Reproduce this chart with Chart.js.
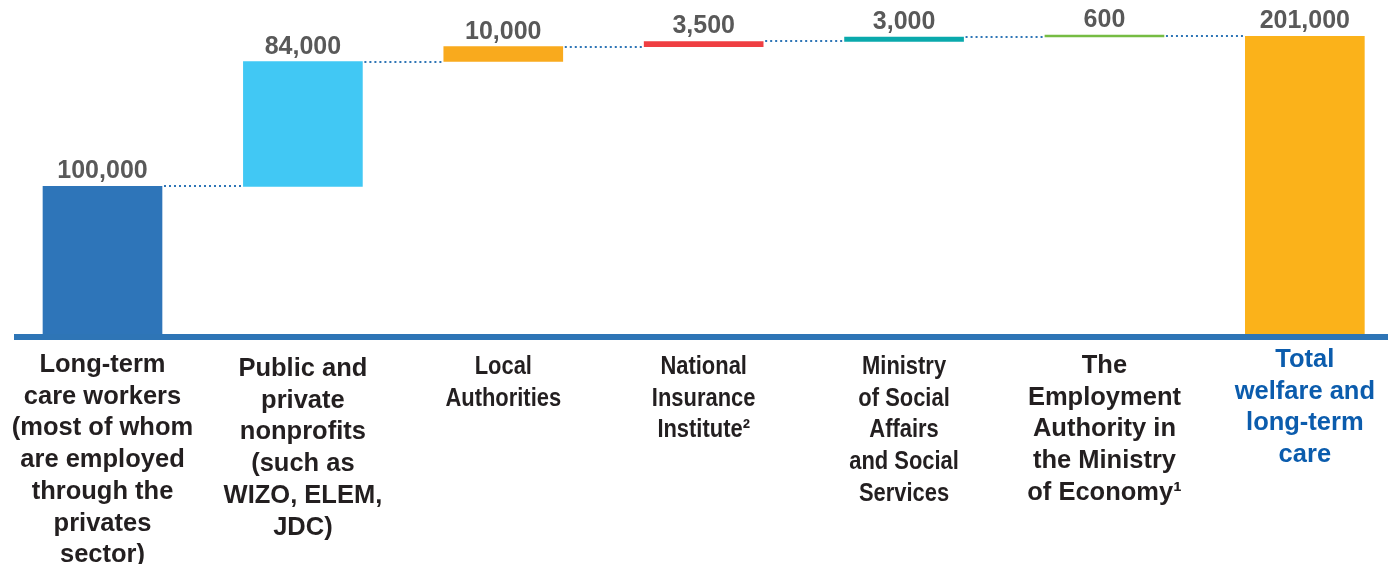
<!DOCTYPE html>
<html>
<head>
<meta charset="utf-8">
<script src="https://cdn.jsdelivr.net/npm/chart.js@4.4.1/dist/chart.umd.min.js"></script>
<style>
  html, body { margin: 0; padding: 0; background: #ffffff; overflow: hidden; }
  #wrap { width: 1388px; height: 564px; }
</style>
</head>
<body>
<div id="wrap"><canvas id="chart" width="1388" height="564"></canvas></div>
<script>
// Category labels (one entry per bar, split into lines)
const categories = [
  ['Long-term', 'care workers', '(most of whom', 'are employed', 'through the', 'privates', 'sector)'],
  ['Public and', 'private', 'nonprofits', '(such as', 'WIZO, ELEM,', 'JDC)'],
  ['Local', 'Authorities'],
  ['National', 'Insurance', 'Institute²'],
  ['Ministry', 'of Social', 'Affairs', 'and Social', 'Services'],
  ['The', 'Employment', 'Authority in', 'the Ministry', 'of Economy¹'],
  ['Total', 'welfare and', 'long-term', 'care']
];

// Workers per employer, and the overall total
const increments = [100000, 84000, 10000, 3500, 3000, 600];
const totalValue = 201000;

// Styling
const barColors = ['#2E75B9', '#41C8F4', '#F9AA1D', '#EF3E42', '#0AA9AC', '#76BC43', '#FBB21A'];
const labelColors = ['#231F20', '#231F20', '#231F20', '#231F20', '#231F20', '#231F20', '#0B5CAD'];
const labelWidthScale = [1, 1, 0.86, 0.86, 0.86, 1, 1];
const labelFirstBaseline = [372, 376, 374, 374, 374, 373, 367];
const labelLineHeight = 31.7;
const fontFamily = '"Liberation Sans", Arial, Helvetica, sans-serif';
const axisBlue = '#2E75B6';

// Floating ranges for the waterfall
const ranges = [];
let running = 0;
increments.forEach(v => { ranges.push([running, running + v]); running += v; });
ranges.push([0, totalValue]);
const valueLabels = increments.concat([totalValue]);

const fmt = v => v.toLocaleString('en-US');

const waterfallDecor = {
  id: 'waterfallDecor',
  beforeDatasetsDraw(chart) {
    const ctx = chart.ctx;
    const meta = chart.getDatasetMeta(0);
    const yScale = chart.scales.y;
    ctx.save();
    ctx.strokeStyle = axisBlue;
    ctx.lineWidth = 2;
    ctx.setLineDash([2, 3]);
    for (let i = 0; i < meta.data.length - 1; i++) {
      const a = meta.data[i], b = meta.data[i + 1];
      const y = Math.round(yScale.getPixelForValue(ranges[i][1]));
      ctx.beginPath();
      ctx.moveTo(a.x + a.width / 2 + 2, y);
      ctx.lineTo(b.x - b.width / 2, y);
      ctx.stroke();
    }
    ctx.restore();
  },
  afterDatasetsDraw(chart) {
    const ctx = chart.ctx;
    const meta = chart.getDatasetMeta(0);
    const area = chart.chartArea;
    ctx.save();
    // baseline rule
    ctx.fillStyle = axisBlue;
    ctx.fillRect(14, area.bottom - 1, chart.width - 14, 6);
    // value labels above each bar
    ctx.font = 'bold 25px ' + fontFamily;
    ctx.fillStyle = '#595959';
    ctx.textAlign = 'center';
    ctx.textBaseline = 'alphabetic';
    meta.data.forEach((bar, i) => {
      const top = Math.min(bar.y, bar.base);
      ctx.fillText(fmt(valueLabels[i]), bar.x, top - 8);
    });
    // category labels under the baseline
    ctx.font = 'bold 25.5px ' + fontFamily;
    categories.forEach((lines, i) => {
      const x = chart.scales.x.getPixelForValue(i);
      ctx.save();
      ctx.translate(x, labelFirstBaseline[i]);
      ctx.scale(labelWidthScale[i], 1);
      ctx.fillStyle = labelColors[i];
      lines.forEach((line, k) => ctx.fillText(line, 0, k * labelLineHeight));
      ctx.restore();
    });
    ctx.restore();
  }
};

new Chart(document.getElementById('chart'), {
  type: 'bar',
  data: {
    datasets: [{
      data: ranges.map((r, i) => ({ x: i, y: r })),
      backgroundColor: barColors,
      borderWidth: 0,
      barThickness: 119,
      minBarLength: 2
    }]
  },
  options: {
    responsive: false,
    animation: false,
    devicePixelRatio: 1,
    layout: { padding: { left: 0, right: 0, top: 0, bottom: 229 } },
    scales: {
      x: { type: 'linear', offset: false, min: -0.5115, max: 6.415, display: false },
      y: { min: 0, max: 225400, display: false }
    },
    plugins: {
      legend: { display: false },
      tooltip: { enabled: false }
    }
  },
  plugins: [waterfallDecor]
});
</script>
</body>
</html>
